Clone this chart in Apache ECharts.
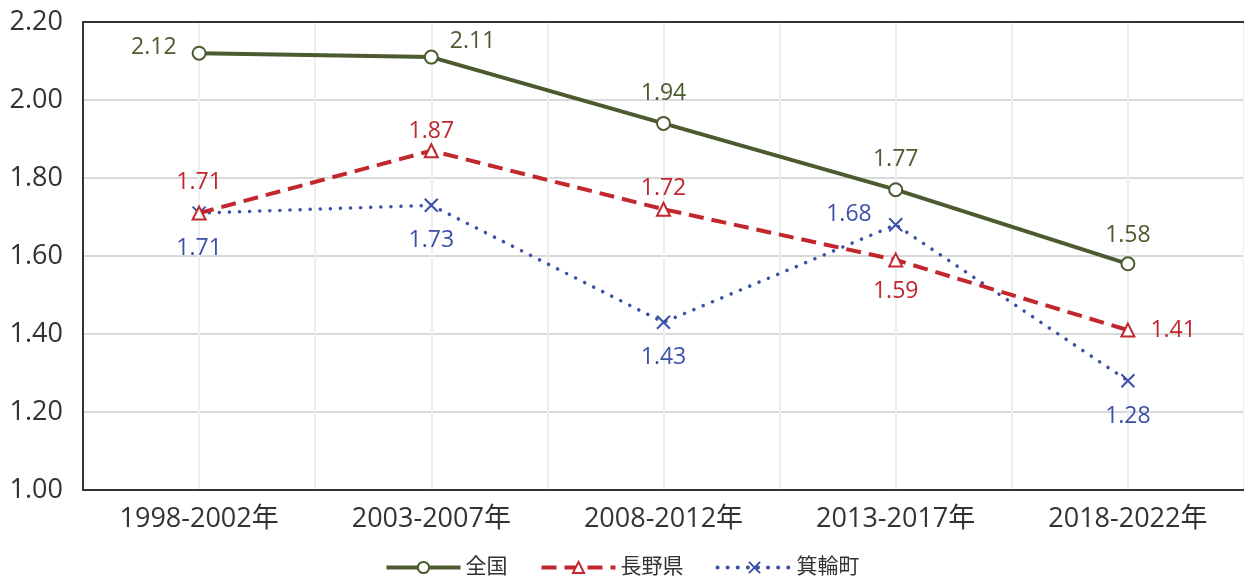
<!DOCTYPE html>
<html>
<head>
<meta charset="utf-8">
<script src="https://cdn.jsdelivr.net/npm/echarts@6/dist/echarts.min.js"></script>
<style>
  html, body { margin: 0; padding: 0; background: #fff; }
  #chart { width: 1244px; height: 576px; }
</style>
</head>
<body>
<div id="chart"></div>
<script>
// 期間（カテゴリ）
const periods = ['1998-2002年', '2003-2007年', '2008-2012年', '2013-2017年', '2018-2022年'];
// 合計特殊出生率
const national = [2.12, 2.11, 1.94, 1.77, 1.58];
const nagano = [1.71, 1.87, 1.72, 1.59, 1.41];
const minowa = [1.71, 1.73, 1.43, 1.68, 1.28];
// ラベル位置と距離
const nationalPos = ['left', 'right', 'top', 'top', 'top'];
const naganoPos = ['top', 'top', 'top', 'bottom', 'right'];
const minowaPos = ['bottom', 'bottom', 'bottom', 'left', 'bottom'];
const nationalDist = [15, 15, 11, 11, 9];
const naganoDist = [12, 0, 2, 13, 15];
const minowaDist = [15, 15, 15, 15, 15];

const FONT = '"Open Sans", "Noto Sans CJK JP", sans-serif';
const GREEN = '#4b5a2f';
const RED = '#c1272d';
const BLUE = '#3b51a8';

function withLabels(values, positions, dists, color) {
  return values.map((v, i) => {
    const label = { position: positions[i], distance: dists[i] };
    if (i === 0 && positions[i] === 'left') label.offset = [0, -6];
    if (positions[i] === 'right' && color === GREEN) label.offset = [-4, -16];
    if (positions[i] === 'left' && color === BLUE) label.offset = [0, -10];
    return { value: v, label };
  });
}

function labelStyle(color) {
  return {
    show: true,
    color: color,
    fontSize: 23,
    fontFamily: FONT,
    formatter: p => p.value.toFixed(2)
  };
}

const chart = echarts.init(document.getElementById('chart'));

const option = {
  animation: false,
  backgroundColor: '#ffffff',
  textStyle: { fontFamily: FONT },
  grid: { left: 83, right: 0, top: 22, bottom: 86 },
  legend: {
    bottom: -2,
    left: 'center',
    padding: [0, 5, 0, 5],
    itemWidth: 74,
    itemHeight: 14,
    itemGap: 32,
    lineStyle: { width: 4 },
    textStyle: { fontSize: 21, color: '#333', fontFamily: FONT },
    data: ['全国', '長野県', '箕輪町']
  },
  xAxis: [
    {
      type: 'category',
      data: periods,
      boundaryGap: true,
      axisLine: { lineStyle: { color: '#333', width: 2 } },
      axisTick: { show: false },
      axisLabel: { color: '#333', fontSize: 27, margin: 16, fontFamily: FONT },
      splitLine: { show: false }
    },
    {
      // 縦の補助線と上辺の枠線
      type: 'value',
      position: 'top',
      min: -0.5,
      max: 4.5,
      interval: 0.5,
      axisLine: { show: true, onZero: false, lineStyle: { color: '#333', width: 2 } },
      axisTick: { show: false },
      axisLabel: { show: false },
      splitLine: { show: true, lineStyle: { color: '#eeeeee', width: 2 } }
    }
  ],
  yAxis: {
    type: 'value',
    min: 1,
    max: 2.2,
    interval: 0.2,
    axisLine: { show: true, onZero: false, lineStyle: { color: '#333', width: 2 } },
    axisTick: { show: false },
    axisLabel: {
      color: '#333',
      fontSize: 27,
      margin: 20,
      fontFamily: FONT,
      formatter: v => v.toFixed(2)
    },
    splitLine: { lineStyle: { color: '#d9d9d9', width: 2 } }
  },
  series: [
    {
      name: '全国',
      type: 'line',
      data: withLabels(national, nationalPos, nationalDist, GREEN),
      symbol: 'circle',
      symbolSize: 13,
      itemStyle: { color: '#ffffff', borderColor: GREEN, borderWidth: 2 },
      lineStyle: { color: GREEN, width: 4 },
      label: labelStyle(GREEN),
      z: 4
    },
    {
      name: '長野県',
      type: 'line',
      data: withLabels(nagano, naganoPos, naganoDist, RED),
      symbol: 'triangle',
      symbolSize: 13,
      itemStyle: { color: '#ffffff', borderColor: RED, borderWidth: 2 },
      lineStyle: { color: RED, width: 4, type: [15, 8] },
      label: labelStyle(RED),
      z: 3
    },
    {
      name: '箕輪町',
      type: 'line',
      data: withLabels(minowa, minowaPos, minowaDist, BLUE),
      symbol: 'path://M0,0L10,10M10,0L0,10',
      symbolSize: 13,
      itemStyle: { color: 'none', borderColor: BLUE, borderWidth: 2 },
      lineStyle: { color: BLUE, width: 3.5, type: [0.1, 10], cap: 'round' },
      label: labelStyle(BLUE),
      z: 2
    }
  ]
};

chart.setOption(option);
</script>
</body>
</html>
